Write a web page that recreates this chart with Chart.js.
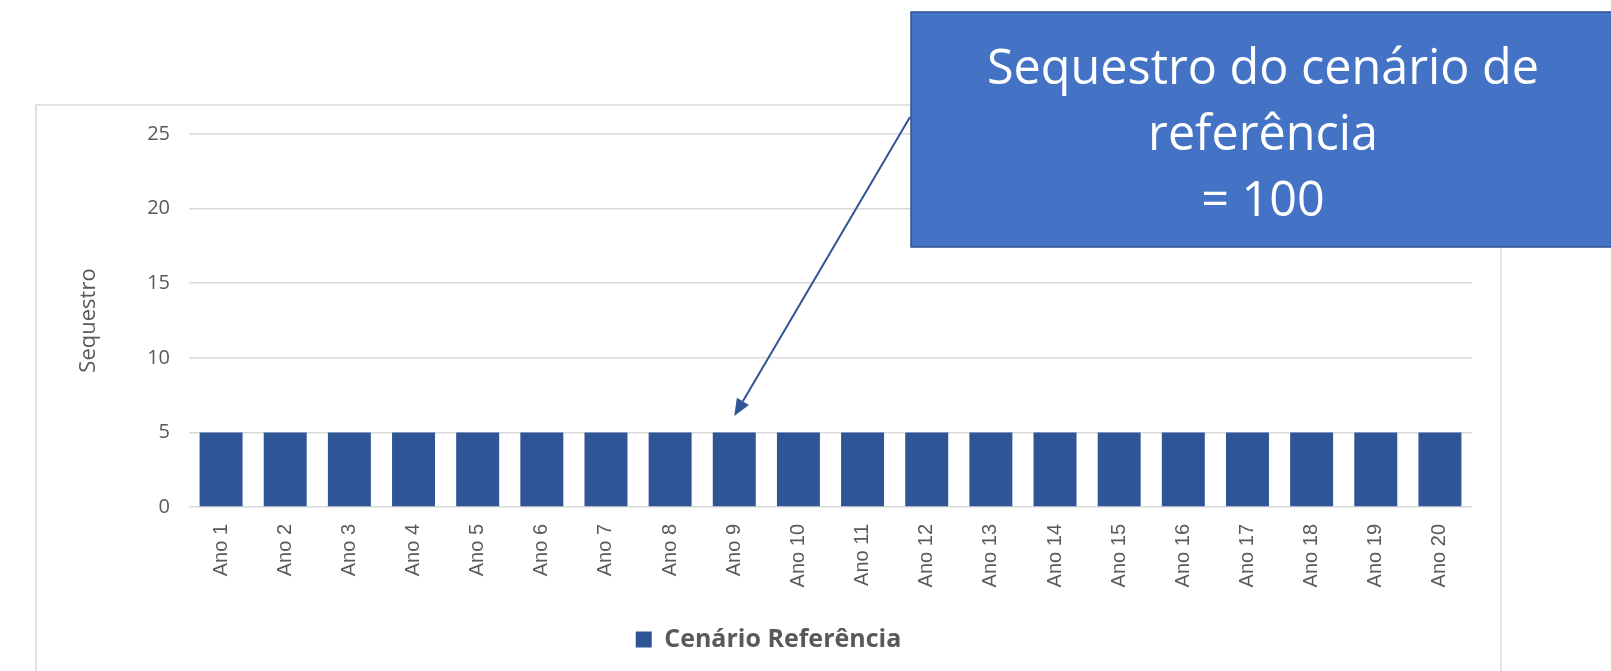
<!DOCTYPE html>
<html>
<head>
<meta charset="utf-8">
<script src="https://cdn.jsdelivr.net/npm/chart.js@4/dist/chart.umd.min.js"></script>
<style>
  body { margin: 0; background: #fff; }
  #wrap { width: 1611px; height: 671px; }
</style>
</head>
<body>
<div id="wrap"><canvas id="barChart" width="1611" height="671"></canvas></div>
<script>
const labels = ['Ano 1', 'Ano 2', 'Ano 3', 'Ano 4', 'Ano 5', 'Ano 6', 'Ano 7', 'Ano 8', 'Ano 9', 'Ano 10',
                'Ano 11', 'Ano 12', 'Ano 13', 'Ano 14', 'Ano 15', 'Ano 16', 'Ano 17', 'Ano 18', 'Ano 19', 'Ano 20'];
const sequestro = [5, 5, 5, 5, 5, 5, 5, 5, 5, 5, 5, 5, 5, 5, 5, 5, 5, 5, 5, 5];
const yMin = 0;
const yMax = 25;
const yStep = 5;
const seriesName = 'Cenário Referência';
const yTitle = 'Sequestro';
const calloutLines = ['Sequestro do cenário de', 'referência', '= 100'];
// arrow points at "Ano 9", just above the bar top
const arrowCategory = 8;
const arrowValue = 6.1;

const gray = '#595959';
const gridColor = '#D9D9D9';
const barColor = '#2F5597';

// white background, outer frame, then the callout with its arrow on top
const frameAndCallout = {
    id: 'frameAndCallout',
    beforeDraw(chart) {
        const ctx = chart.ctx;
        ctx.save();
        ctx.fillStyle = '#fff';
        ctx.fillRect(0, 0, chart.width, chart.height);
        ctx.strokeStyle = gridColor;
        ctx.lineWidth = 1.5;
        ctx.strokeRect(36, 105, 1465, 600);
        ctx.restore();
    },
    afterDraw(chart) {
        const ctx = chart.ctx;
        const tipX = chart.scales.x.getPixelForValue(arrowCategory);
        const tipY = chart.scales.y.getPixelForValue(arrowValue);
        const fromX = 910, fromY = 117;
        const ang = Math.atan2(tipY - fromY, tipX - fromX);
        const headLen = 17, headW = 7;
        const baseX = tipX - headLen * Math.cos(ang);
        const baseY = tipY - headLen * Math.sin(ang);

        ctx.save();
        ctx.strokeStyle = barColor;
        ctx.fillStyle = barColor;
        ctx.lineWidth = 2;
        ctx.beginPath();
        ctx.moveTo(fromX, fromY);
        ctx.lineTo(baseX, baseY);
        ctx.stroke();
        ctx.beginPath();
        ctx.moveTo(tipX, tipY);
        ctx.lineTo(baseX + headW * Math.sin(ang), baseY - headW * Math.cos(ang));
        ctx.lineTo(baseX - headW * Math.sin(ang), baseY + headW * Math.cos(ang));
        ctx.closePath();
        ctx.fill();

        ctx.fillStyle = '#4472C4';
        ctx.fillRect(911, 12, 720, 235);
        ctx.strokeStyle = '#2F528F';
        ctx.lineWidth = 1.5;
        ctx.strokeRect(911, 12, 720, 235);

        ctx.fillStyle = '#fff';
        ctx.font = '50px "Open Sans"';
        ctx.textAlign = 'center';
        ctx.textBaseline = 'alphabetic';
        const sx = 552 / ctx.measureText(calloutLines[0]).width;
        calloutLines.forEach(function (line, i) {
            ctx.save();
            ctx.translate(1263, 84 + i * 66);
            ctx.scale(sx, 1);
            ctx.fillText(line, 0, 0);
            ctx.restore();
        });
        ctx.restore();
    }
};

var barData = {
    labels: labels,
    datasets: [
        {
            label: seriesName,
            backgroundColor: barColor,
            borderWidth: 0,
            data: sequestro
        }
    ]
};

var barOptions = {
    responsive: false,
    animation: false,
    layout: {
        padding: { left: 36, right: 110, top: 134, bottom: 9 }
    },
    plugins: {
        tooltip: { enabled: false },
        legend: {
            position: 'bottom',
            labels: {
                color: gray,
                boxWidth: 16,
                boxHeight: 16,
                padding: 10,
                font: { family: '"Open Sans"', size: 25, weight: 'bold' }
            }
        }
    },
    datasets: {
        bar: { categoryPercentage: 1, barPercentage: 0.67 }
    },
    scales: {
        x: {
            grid: { display: false, drawTicks: false },
            border: { display: false },
            ticks: {
                color: gray,
                minRotation: 90,
                maxRotation: 90,
                padding: 17,
                font: { family: '"Liberation Sans"', size: 20 }
            },
            afterFit: function (scale) { scale.height = 110; }
        },
        y: {
            min: yMin,
            max: yMax,
            grid: { color: gridColor, lineWidth: 1.5, drawTicks: false },
            border: { display: false },
            ticks: {
                stepSize: yStep,
                color: gray,
                padding: 19,
                font: { family: '"Open Sans"', size: 20 }
            },
            title: {
                display: true,
                text: yTitle,
                color: gray,
                padding: { top: 40, bottom: 0 },
                font: { family: '"Open Sans"', size: 22 }
            },
            afterFit: function (scale) { scale.width = 153; }
        },
        y2: {
            position: 'right',
            grid: { display: false },
            border: { display: false },
            ticks: { display: false },
            afterFit: function (scale) { scale.width = 29; }
        }
    }
};

var ctx2 = document.getElementById('barChart').getContext('2d');
new Chart(ctx2, { type: 'bar', data: barData, options: barOptions, plugins: [frameAndCallout] });
</script>
</body>
</html>
